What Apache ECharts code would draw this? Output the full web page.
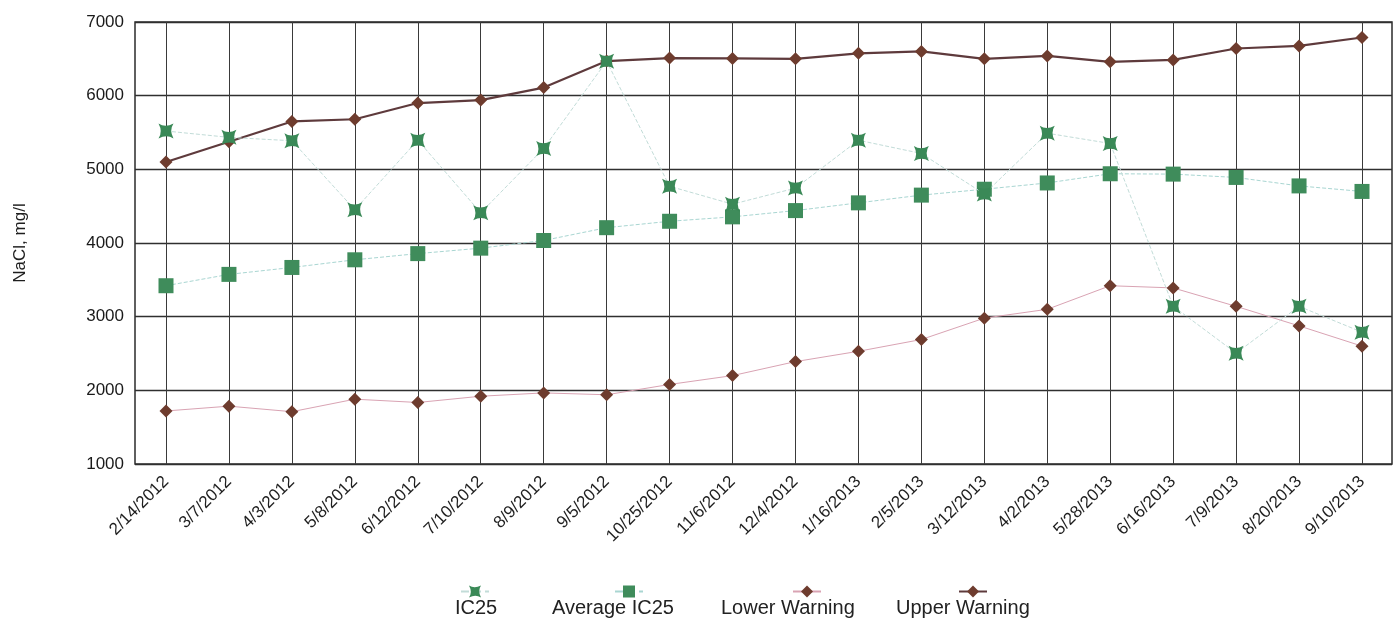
<!DOCTYPE html>
<html>
<head>
<meta charset="utf-8">
<script src="https://cdn.jsdelivr.net/npm/echarts@6/dist/echarts.min.js"></script>
<style>
html,body{margin:0;padding:0;background:#fff;}
#chart{width:1398px;height:624px;}
</style>
</head>
<body>
<div id="chart"></div>
<script>
const categories = ['2/14/2012','3/7/2012','4/3/2012','5/8/2012','6/12/2012','7/10/2012','8/9/2012','9/5/2012','10/25/2012','11/6/2012','12/4/2012','1/16/2013','2/5/2013','3/12/2013','4/2/2013','5/28/2013','6/16/2013','7/9/2013','8/20/2013','9/10/2013'];
const ic25 = [5520,5434,5388,4452,5396,4410,5284,6468,4770,4527,4745,5395,5215,4665,5490,5351,3141,2505,3140,2790];
const avgIc25 = [3420,3574,3668,3772,3856,3930,4034,4208,4295,4355,4440,4545,4650,4730,4815,4940,4935,4890,4775,4700];
const lowerWarning = [1720,1785,1710,1880,1835,1920,1965,1940,2080,2200,2390,2530,2690,2980,3100,3420,3390,3140,2875,2600];
const upperWarning = [5100,5375,5650,5680,5900,5940,6110,6470,6510,6505,6500,6575,6600,6500,6540,6460,6485,6640,6675,6790];
const seriesNames = ['IC25','Average IC25','Lower Warning','Upper Warning'];
const yTicks = {min:1000, max:7000, interval:1000};

const FONT = "'Liberation Sans', Arial, sans-serif";
const starPath = 'path://M-10,-10 Q-1,-4 10,-10 Q4,-1 10,10 Q1,4 -10,10 Q-4,1 -10,-10 Z';

// legend layout (icon centre x, text left x)
const iconX = [474, 628, 806, 972];
const textX = [455, 552, 721, 896];

const legends = [];
seriesNames.forEach((n, i) => {
  legends.push({
    data: [n], left: iconX[i] - 14, top: 584, itemWidth: 28, itemHeight: 15,
    formatter: () => '', itemGap: 0, padding: 0, selectedMode: false
  });
  legends.push({
    data: [n], left: textX[i] - 5, top: 598, itemWidth: 0, itemHeight: 0, icon: 'rect',
    itemStyle: {opacity: 0}, lineStyle: {opacity: 0}, padding: 0, selectedMode: false,
    textStyle: {fontFamily: FONT, fontSize: 20, color: '#222'}
  });
});

const chart = echarts.init(document.getElementById('chart'), null, {renderer: 'canvas'});
chart.setOption({
  animation: false,
  backgroundColor: '#ffffff',
  legend: legends,
  grid: [
    {left: 166, right: 36, top: 22, bottom: 160},
    {left: 135, right: 6, top: 22, bottom: 160, show: true, borderColor: '#2b2b2b', borderWidth: 1.5, backgroundColor: 'transparent', z: 0}
  ],
  xAxis: [
    {
      type: 'category', gridIndex: 0, data: categories, boundaryGap: false,
      axisLine: {show: false}, axisTick: {show: false},
      splitLine: {show: true, lineStyle: {color: '#3a3a3a', width: 1}},
      axisLabel: {rotate: 45, interval: 0, margin: 15, fontFamily: FONT, fontSize: 17, color: '#1e1e1e'}
    },
    {type: 'value', gridIndex: 1, show: false, min: 0, max: 1}
  ],
  yAxis: [
    {type: 'value', gridIndex: 0, show: false, min: yTicks.min, max: yTicks.max, interval: yTicks.interval, splitLine: {show: false}},
    {
      type: 'value', gridIndex: 1, min: yTicks.min, max: yTicks.max, interval: yTicks.interval,
      name: 'NaCl, mg/l', nameLocation: 'middle', nameGap: 106,
      nameTextStyle: {fontFamily: FONT, fontSize: 17, color: '#1e1e1e'},
      axisLine: {show: false}, axisTick: {show: false},
      splitLine: {show: true, lineStyle: {color: '#2f2f2f', width: 1.3}},
      axisLabel: {margin: 11, fontFamily: FONT, fontSize: 17, color: '#1a1a1a', formatter: v => String(v)}
    }
  ],
  series: [
    {
      name: 'Lower Warning', type: 'line', xAxisIndex: 0, yAxisIndex: 0, data: lowerWarning,
      symbol: 'diamond', symbolSize: 13, z: 3,
      lineStyle: {color: '#d9a3b3', width: 1},
      itemStyle: {color: '#6e3c2e'}
    },
    {
      name: 'Upper Warning', type: 'line', xAxisIndex: 0, yAxisIndex: 0, data: upperWarning,
      symbol: 'diamond', symbolSize: 13, z: 4,
      lineStyle: {color: '#5e3a3c', width: 2.2},
      itemStyle: {color: '#6e3c2e'}
    },
    {
      name: 'Average IC25', type: 'line', xAxisIndex: 0, yAxisIndex: 0, data: avgIc25,
      symbol: 'rect', symbolSize: 15, z: 5,
      lineStyle: {color: '#a9d6d2', width: 1, type: 'dashed'},
      itemStyle: {color: '#3f8c5b'}
    },
    {
      name: 'IC25', type: 'line', xAxisIndex: 0, yAxisIndex: 0, data: ic25,
      symbol: starPath, symbolSize: 15, z: 6,
      lineStyle: {color: '#c2dcd8', width: 1, type: 'dashed'},
      itemStyle: {color: '#3a8957'}
    }
  ]
});
</script>
</body>
</html>
